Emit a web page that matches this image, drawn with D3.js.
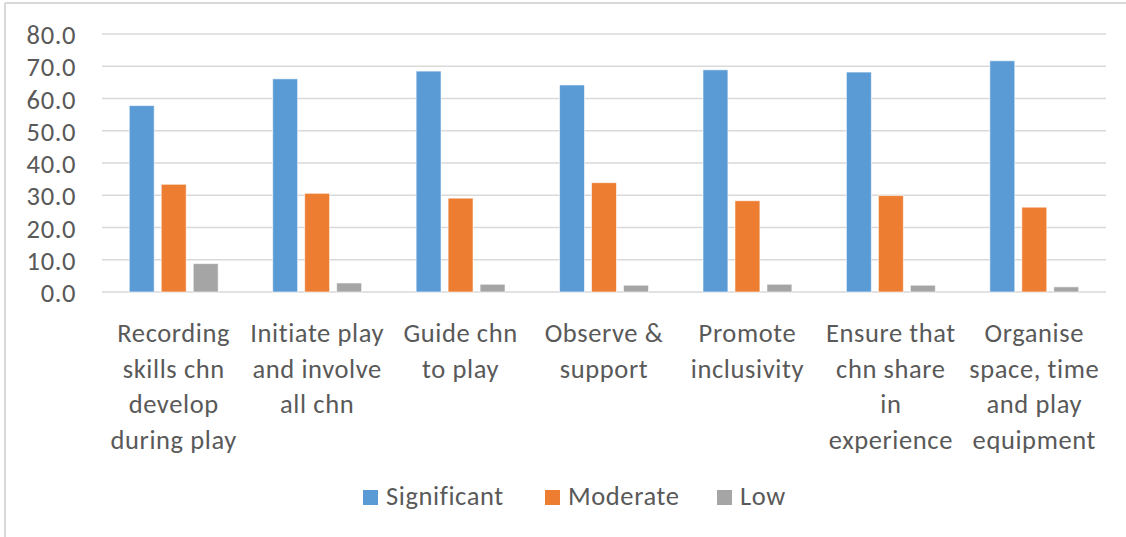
<!DOCTYPE html>
<html>
<head>
<meta charset="utf-8">
<script src="https://cdn.jsdelivr.net/npm/d3@7"></script>
<style>
  html, body { margin: 0; padding: 0; background: #fff; }
  svg { display: block; font-family: Carlito, Lato, "Liberation Sans", sans-serif; }
</style>
</head>
<body>
<svg id="chart" width="1126" height="537"></svg>
<script>
const categories = [
  "Recording\nskills chn\ndevelop\nduring play",
  "Initiate play\nand involve\nall chn",
  "Guide chn\nto play",
  "Observe &\nsupport",
  "Promote\ninclusivity",
  "Ensure that\nchn share\nin\nexperience",
  "Organise\nspace, time\nand play\nequipment"
];
const seriesNames = ["Significant", "Moderate", "Low"];
const significant = [57.8, 66.1, 68.5, 64.2, 68.9, 68.2, 71.7];
const moderate    = [33.4, 30.6, 29.1, 33.9, 28.3, 29.9, 26.3];
const low         = [8.8, 2.8, 2.4, 2.1, 2.4, 2.1, 1.6];
const yTicks = [0, 10, 20, 30, 40, 50, 60, 70, 80];
const colors = ["#5B9BD5", "#ED7D31", "#A5A5A5"];

const seriesValues = [significant, moderate, low];
const svg = d3.select("#chart");
const textColor = "#595959";
const fs = 26.5;
const ls = "0.6px";

// chart frame (left and top edges visible)
svg.append("line").attr("x1", 5).attr("x2", 5).attr("y1", 3).attr("y2", 537)
  .attr("stroke", "#d9d9d9").attr("stroke-width", 2);
svg.append("line").attr("x1", 5).attr("x2", 1126).attr("y1", 3).attr("y2", 3)
  .attr("stroke", "#d9d9d9").attr("stroke-width", 2);

const plot = { left: 102, right: 1106, top: 34, bottom: 292 };

const y = d3.scaleLinear().domain([0, 80]).range([plot.bottom, plot.top]);
const x0 = d3.scaleBand().domain(d3.range(categories.length)).range([plot.left, plot.right]);
const gw = x0.bandwidth();
const x1 = d3.scaleBand().domain(seriesNames).range([gw * 0.19, gw * 0.81]).paddingInner(0.22);

// gridlines
svg.append("g").selectAll("line").data(yTicks).join("line")
  .attr("x1", plot.left).attr("x2", plot.right)
  .attr("y1", d => y(d)).attr("y2", d => y(d))
  .attr("stroke", "#d9d9d9").attr("stroke-width", 1.5);

// y axis labels
const yAxis = d3.axisLeft(y).tickValues(yTicks).tickFormat(d3.format(".1f")).tickSize(0).tickPadding(0);
const yg = svg.append("g").attr("transform", `translate(76,0)`).call(yAxis);
yg.select(".domain").remove();
yg.selectAll("text").attr("fill", textColor).attr("font-size", fs).attr("letter-spacing", ls)
  .attr("font-family", "Carlito, Lato, 'Liberation Sans', sans-serif").attr("dy", "0.36em");

// bars
const groups = svg.append("g").selectAll("g").data(categories).join("g")
  .attr("transform", (d, i) => `translate(${x0(i)},0)`);
groups.selectAll("rect").data((d, i) => seriesNames.map((s, k) => ({ s, k, v: seriesValues[k][i] })))
  .join("rect")
  .attr("x", d => x1(d.s))
  .attr("width", x1.bandwidth())
  .attr("y", d => y(d.v))
  .attr("height", d => y(0) - y(d.v))
  .attr("fill", d => colors[d.k])
  .attr("stroke", "#ffffff").attr("stroke-opacity", 0.6).attr("stroke-width", 1);

// category labels
const lab = svg.append("g").selectAll("text").data(categories).join("text")
  .attr("text-anchor", "middle")
  .attr("fill", textColor).attr("font-size", fs).attr("letter-spacing", ls)
  .attr("x", (d, i) => x0(i) + gw / 2)
  .attr("y", 342);
lab.selectAll("tspan").data(d => d.split("\n")).join("tspan")
  .attr("x", function () { return d3.select(this.parentNode).attr("x"); })
  .attr("dy", (d, j) => j === 0 ? 0 : 35.5)
  .text(d => d);

// legend
const legendX = [363, 545, 717];
const leg = svg.append("g").selectAll("g").data(seriesNames).join("g")
  .attr("transform", (d, i) => `translate(${legendX[i]},0)`);
leg.append("rect").attr("x", 0).attr("y", 490).attr("width", 15).attr("height", 15)
  .attr("fill", (d, i) => colors[i]);
leg.append("text").attr("x", 23).attr("y", 505).attr("fill", textColor).attr("font-size", fs)
  .attr("letter-spacing", ls).text(d => d);
</script>
</body>
</html>
